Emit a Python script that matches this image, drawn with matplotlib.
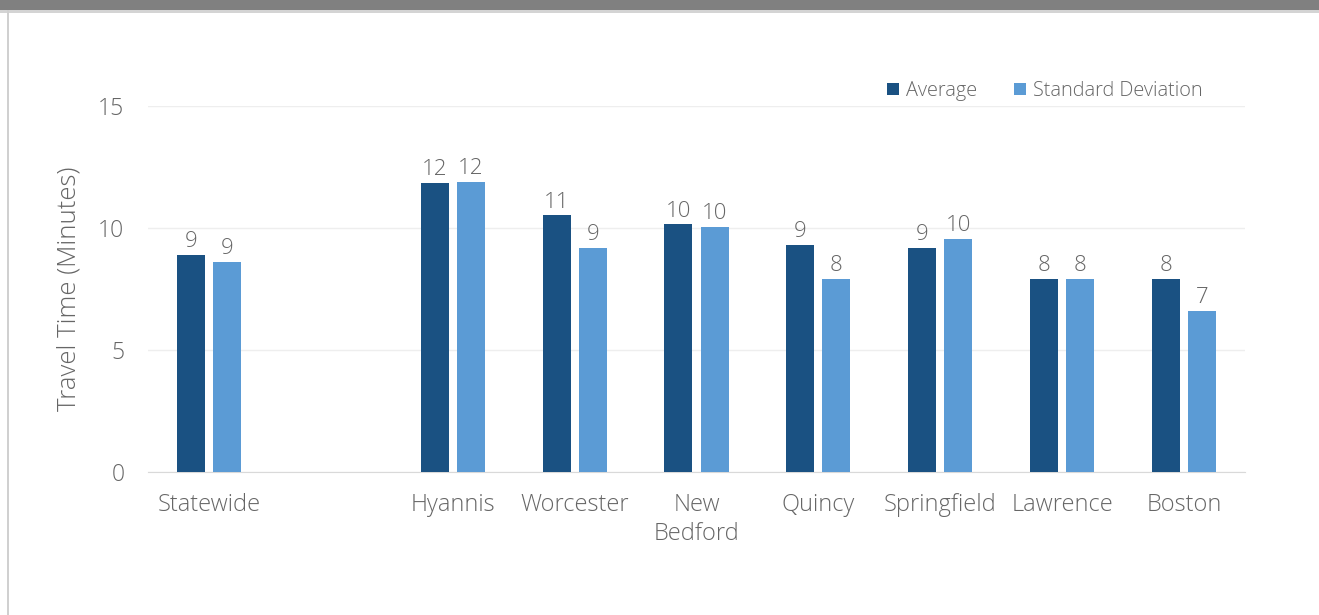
import matplotlib
matplotlib.use("Agg")
import matplotlib.pyplot as plt
import numpy as np
from matplotlib.patches import Rectangle

categories = ["Statewide", "", "Hyannis", "Worcester", "New\nBedford", "Quincy", "Springfield", "Lawrence", "Boston"]
average = [8.9, None, 11.85, 10.52, 10.15, 9.3, 9.2, 7.9, 7.9]
std_dev = [8.6, None, 11.9, 9.18, 10.05, 7.9, 9.55, 7.9, 6.6]
series_names = ["Average", "Standard Deviation"]
yticks = [0, 5, 10, 15]

dark = "#1a5182"
light = "#5b9bd5"
text_col = "#666666"
font = "Open Sans"
fw = 300

fig = plt.figure(figsize=(13.19, 6.15), dpi=100)
fig.patch.set_facecolor("white")

# header bar and frame
fig.add_artist(Rectangle((0, 1 - 10/615), 1, 10/615, transform=fig.transFigure, color="#808080", lw=0))
fig.add_artist(Rectangle((0, 1 - 13/615), 1, 3/615, transform=fig.transFigure, color="#d4d4d4", lw=0))
fig.add_artist(Rectangle((7/1319, 0), 2/1319, 1 - 10/615, transform=fig.transFigure, color="#d0d0d0", lw=0))

ax = fig.add_axes([148/1319, 1 - 472/615, (1245 - 148)/1319, (472 - 106)/615])
x = np.arange(len(categories))
w = 0.23
off = 0.148
idx = [i for i, v in enumerate(average) if v is not None]
avg_vals = [average[i] for i in idx]
sd_vals = [std_dev[i] for i in idx]
b1 = ax.bar(x[idx] - off, avg_vals, w, color=dark, label=series_names[0], zorder=3)
b2 = ax.bar(x[idx] + off, sd_vals, w, color=light, label=series_names[1], zorder=3)
for bars in (b1, b2):
    ax.bar_label(bars, fmt="%.0f", padding=2, fontsize=16, color=text_col, family=font, fontweight=fw)

ax.set_xlim(-0.5, len(categories) - 0.5)
ax.set_ylim(0, 15)
ax.set_yticks(yticks)
ax.set_yticklabels([str(t) for t in yticks], fontsize=16.5, color=text_col, family=font, fontweight=fw)
ax.set_xticks(x)
ax.set_xticklabels(categories, fontsize=17, color=text_col, family=font, fontweight=fw, linespacing=1.3)
ax.tick_params(axis="both", length=0)
ax.tick_params(axis="y", pad=17)
ax.tick_params(axis="x", pad=15)
ax.grid(axis="y", color="#eeeeee", lw=1, zorder=0)
for s in ["top", "right", "left"]:
    ax.spines[s].set_visible(False)
ax.spines["bottom"].set_color("#d9d9d9")
ax.set_ylabel("Travel Time (Minutes)", fontsize=18.5, color=text_col, family=font, fontweight=fw, labelpad=12)

leg = ax.legend(loc="upper right", bbox_to_anchor=(0.978, 1.117), ncol=2, frameon=False,
                prop={"family": font, "size": 14.3, "weight": fw},
                handlelength=0.6, handleheight=0.6, handletextpad=0.35, columnspacing=1.9)
for t in leg.get_texts():
    t.set_color(text_col)

fig.savefig("out.png", dpi=100)
